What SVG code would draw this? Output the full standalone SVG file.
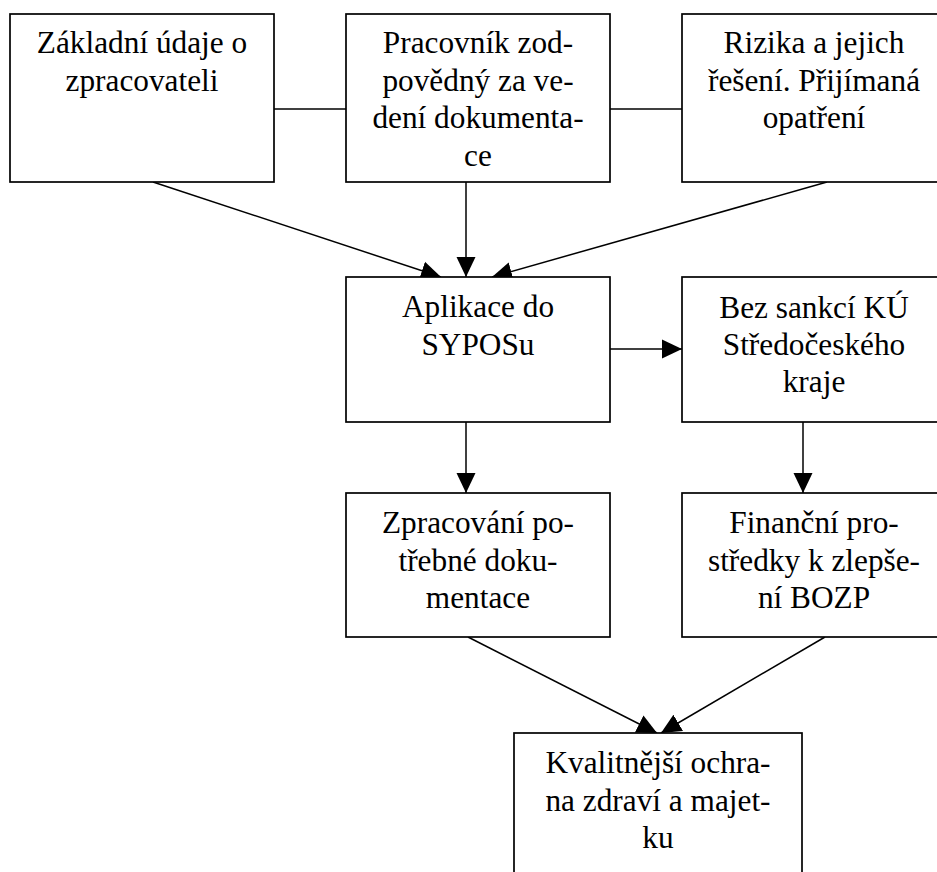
<svg xmlns="http://www.w3.org/2000/svg" width="937" height="872" viewBox="0 0 937 872">
<style>
.box{fill:#fff;stroke:#000;stroke-width:1.7}
.t{font-family:"Liberation Serif","Times New Roman",serif;font-size:31.3px;fill:#000;text-anchor:middle}
.c{stroke:#000;stroke-width:1.5;fill:none}
.a{marker-end:url(#ah)}
</style>
<defs>
<marker id="ah" markerUnits="userSpaceOnUse" markerWidth="20" markerHeight="20" refX="20" refY="9.5" orient="auto" viewBox="0 0 20 19">
<path d="M0,0 L20,9.5 L0,19 Z" fill="#000"/>
</marker>
</defs>
<rect width="937" height="872" fill="#fff"/>
<g id="connectors">
<line class="c" x1="274" y1="109" x2="346" y2="109"/>
<line class="c" x1="610" y1="109" x2="682" y2="109"/>
<line class="c a" x1="153" y1="182" x2="441" y2="277"/>
<line class="c a" x1="466" y1="182" x2="466" y2="277"/>
<line class="c a" x1="827" y1="182" x2="492" y2="277"/>
<line class="c a" x1="610" y1="349" x2="682" y2="349"/>
<line class="c a" x1="466" y1="422" x2="466" y2="493"/>
<line class="c a" x1="803" y1="422" x2="803" y2="493"/>
<line class="c a" x1="468" y1="637" x2="657" y2="733"/>
<line class="c a" x1="825" y1="637" x2="661" y2="733"/>
</g>
<g id="n1">
<rect class="box" x="10" y="14" width="264" height="168"/>
<text class="t" x="142" y="53.3">Základní údaje o</text>
<text class="t" x="142" y="90.8">zpracovateli</text>
</g>
<g id="n2">
<rect class="box" x="346" y="14" width="264" height="168"/>
<text class="t" x="478" y="53.3">Pracovník zod-</text>
<text class="t" x="478" y="90.8">povědný za ve-</text>
<text class="t" x="478" y="128.3">dení dokumenta-</text>
<text class="t" x="478" y="165.8">ce</text>
</g>
<g id="n3">
<rect class="box" x="682" y="14" width="264" height="168"/>
<text class="t" x="814" y="53.3">Rizika a jejich</text>
<text class="t" x="814" y="90.8">řešení. Přijímaná</text>
<text class="t" x="814" y="128.3">opatření</text>
</g>
<g id="n4">
<rect class="box" x="346" y="277" width="264" height="145"/>
<text class="t" x="478" y="317.3">Aplikace do</text>
<text class="t" x="478" y="355">SYPOSu</text>
</g>
<g id="n5">
<rect class="box" x="682" y="277" width="264" height="145"/>
<text class="t" x="814" y="317.5">Bez sankcí KÚ</text>
<text class="t" x="814" y="354.8">Středočeského</text>
<text class="t" x="814" y="392">kraje</text>
</g>
<g id="n6">
<rect class="box" x="346" y="493" width="264" height="144"/>
<text class="t" x="478" y="533.3">Zpracování po-</text>
<text class="t" x="478" y="571">třebné doku-</text>
<text class="t" x="478" y="608.3">mentace</text>
</g>
<g id="n7">
<rect class="box" x="682" y="493" width="264" height="144"/>
<text class="t" x="814" y="533.3">Finanční pro-</text>
<text class="t" x="814" y="571">středky k zlepše-</text>
<text class="t" x="814" y="608.3">ní BOZP</text>
</g>
<g id="n8">
<rect class="box" x="514" y="733" width="288" height="170"/>
<text class="t" x="658" y="773.3">Kvalitnější ochra-</text>
<text class="t" x="658" y="810.7">na zdraví a majet-</text>
<text class="t" x="658" y="848.3">ku</text>
</g>
</svg>
